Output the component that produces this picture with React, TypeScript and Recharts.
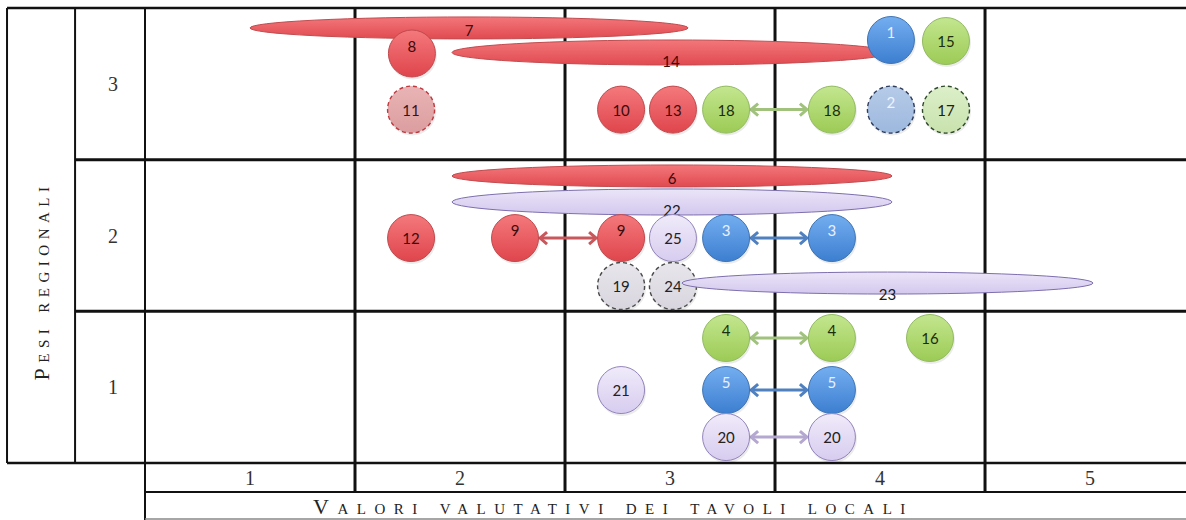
import React from 'react';
import { ScatterChart, Scatter, XAxis, YAxis, ReferenceLine, ReferenceArea, Label } from 'recharts';

// ---------- axis / table values ----------
const X_TICKS = [1, 2, 3, 4, 5];
const Y_TICKS = [1, 2, 3];
const X_TITLE = 'Valori valutativi dei tavoli locali';
const Y_TITLE = 'Pesi regionali';

// ---------- circles (value space: x = valore locale, y = peso regionale) ----------
const redCircles = [
  { label: '8', x: 1.771, y: 3.200 },
  { label: '10', x: 2.767, y: 2.830 },
  { label: '13', x: 3.014, y: 2.830 },
  { label: '12', x: 1.767, y: 1.983 },
  { label: '9', x: 2.262, y: 1.983 },
  { label: '9', x: 2.767, y: 1.983 },
];
const redDashedCircles = [{ label: '11', x: 1.767, y: 2.830 }];
const greenCircles = [
  { label: '15', x: 4.314, y: 3.282 },
  { label: '18', x: 3.267, y: 2.830 },
  { label: '18', x: 3.771, y: 2.830 },
  { label: '4', x: 3.267, y: 1.324 },
  { label: '4', x: 3.771, y: 1.324 },
  { label: '16', x: 4.238, y: 1.324 },
];
const greenDashedCircles = [{ label: '17', x: 4.314, y: 2.830 }];
const blueCircles = [
  { label: '1', x: 4.052, y: 3.289 },
  { label: '3', x: 3.267, y: 1.983 },
  { label: '3', x: 3.771, y: 1.983 },
  { label: '5', x: 3.267, y: 0.981 },
  { label: '5', x: 3.771, y: 0.981 },
];
const blueDashedCircles = [{ label: '2', x: 4.052, y: 2.830 }];
const lavenderCircles = [
  { label: '25', x: 3.014, y: 1.983 },
  { label: '21', x: 2.767, y: 0.981 },
  { label: '20', x: 3.267, y: 0.671 },
  { label: '20', x: 3.771, y: 0.671 },
];
const greyDashedCircles = [
  { label: '19', x: 2.767, y: 1.667 },
  { label: '24', x: 3.014, y: 1.667 },
];

// ---------- bands (elongated ellipses spanning values) ----------
const redBands = [
  { label: '7', x1: 1.0, x2: 3.086, y1: 3.296, y2: 3.441 },
  { label: '14', x1: 1.962, x2: 4.048, y1: 3.124, y2: 3.289 },
  { label: '6', x1: 1.962, x2: 4.057, y1: 2.320, y2: 2.465 },
];
const lavenderBands = [
  { label: '22', x1: 1.962, x2: 4.057, y1: 2.135, y2: 2.307 },
  { label: '23', x1: 3.057, x2: 5.014, y1: 1.614, y2: 1.759 },
];

// ---------- double arrows between circle pairs ----------
const redLinks = [{ from: 2.262, to: 2.767, y: 1.983 }];
const greenLinks = [
  { from: 3.267, to: 3.771, y: 2.830 },
  { from: 3.267, to: 3.771, y: 1.324 },
];
const blueLinks = [
  { from: 3.267, to: 3.771, y: 1.983 },
  { from: 3.267, to: 3.771, y: 0.981 },
];
const lavenderLinks = [{ from: 3.267, to: 3.771, y: 0.671 }];

// ---------- layout constants (value space of the table chrome) ----------
const X_MIN = 0.5;
const X_MAX = 5.457;
const Y_MIN = 0.5;
const Y_MAX = 3.5;
const LEFT_EDGE_X = -0.157;
const ROW_LABEL_X = 0.167;
const TICK_ROW_Y = 0.309;
const TITLE_ROW_Y = 0.131;

const R = 24;
const RAISED = new Set(['1', '2', '3', '4', '5', '8', '9']);
const BAND_LABEL_DY: Record<string, number> = { '7': 2, '14': 8, '6': 2, '22': 8, '23': 11 };
const BAND_Z: Record<string, number> = { '23': 700 };

const KIND_STYLE: Record<string, any> = {
  red: { top: '#f4797c', bottom: '#df454c', stroke: '#c04a4e', text: '#3a0c0c', dashed: false },
  redDashed: { top: '#e9b4b5', bottom: '#dc9d9f', stroke: '#c0393f', text: '#3a1414', dashed: true },
  green: { top: '#c3e68f', bottom: '#9ccb55', stroke: '#93bb62', text: '#1b2e0f', dashed: false },
  greenDashed: { top: '#dcefc9', bottom: '#c8e2ad', stroke: '#2f4a2a', text: '#1b2414', dashed: true },
  blue: { top: '#74aef0', bottom: '#3c7ed0', stroke: '#3f74b4', text: '#e8f0ff', dashed: false },
  blueDashed: { top: '#b6cbe8', bottom: '#9db8de', stroke: '#2f3d5c', text: '#eef3ff', dashed: true },
  lavender: { top: '#f0ebfa', bottom: '#d7ccef', stroke: '#9385bb', text: '#222222', dashed: false },
  greyDashed: { top: '#e8e6ec', bottom: '#d8d5de', stroke: '#4a4a4a', text: '#222222', dashed: true },
};

const BAND_STYLE: Record<string, any> = {
  red: { top: '#f3777a', bottom: '#e04a50', stroke: '#c24c50', text: '#3a0c0c' },
  lavender: { top: '#ebe5f8', bottom: '#d3c8ee', stroke: '#7d6fae', text: '#1a1a1a' },
};

const LINK_COLOR: Record<string, string> = {
  red: '#c8585c',
  green: '#a0c27c',
  blue: '#4f80c0',
  lavender: '#b4a7d0',
};

const LINE = '#111111';
const GRID_Z = -50;
const BAND_DEFAULT_Z = 450;

function Bubble(props: any) {
  const { cx, cy, payload, kind } = props;
  if (cx == null || cy == null) return null;
  const st = KIND_STYLE[kind];
  const id = `grad-${kind}`;
  const raised = RAISED.has(payload.label);
  return (
    <g>
      <defs>
        <linearGradient id={id} x1="0" y1="0" x2="0" y2="1">
          <stop offset="0" stopColor={st.top} />
          <stop offset="1" stopColor={st.bottom} />
        </linearGradient>
      </defs>
      <circle cx={cx + 1} cy={cy + 2} r={R} fill="rgba(0,0,0,0.08)" />
      <circle
        cx={cx}
        cy={cy}
        r={R - 0.5}
        fill={`url(#${id})`}
        stroke={st.stroke}
        strokeWidth={st.dashed ? 1.4 : 1}
        strokeDasharray={st.dashed ? '4 3' : undefined}
      />
      <text
        x={cx}
        y={cy + (raised ? -8 : 0)}
        textAnchor="middle"
        dominantBaseline="central"
        fontFamily="Lato, 'Open Sans', sans-serif"
        fontSize={15}
        fill={st.text}
      >
        {payload.label}
      </text>
    </g>
  );
}

function makeBandShape(kind: string, label: string) {
  return (props: any) => {
    const { x, y, width, height } = props;
    if (x == null || width == null) return null;
    const st = BAND_STYLE[kind];
    const id = `band-${kind}`;
    const cx = x + width / 2;
    const cy = y + height / 2;
    return (
      <g>
        <defs>
          <linearGradient id={id} x1="0" y1="0" x2="0" y2="1">
            <stop offset="0" stopColor={st.top} />
            <stop offset="1" stopColor={st.bottom} />
          </linearGradient>
        </defs>
        <ellipse cx={cx} cy={cy} rx={width / 2} ry={height / 2} fill={`url(#${id})`} stroke={st.stroke} strokeWidth={1} />
        <text
          x={cx}
          y={cy + (BAND_LABEL_DY[label] || 0)}
          textAnchor="middle"
          dominantBaseline="central"
          fontFamily="Lato, 'Open Sans', sans-serif"
          fontSize={15}
          fill={st.text}
        >
          {label}
        </text>
      </g>
    );
  };
}

function makeArrowShape(color: string) {
  return (props: any) => {
    const { x1, y1, x2, y2 } = props;
    if (x1 == null || x2 == null) return null;
    const a = Math.min(x1, x2) + R;
    const b = Math.max(x1, x2) - R;
    const y = (y1 + y2) / 2;
    const h = 8;
    return (
      <g>
        <line x1={a + 2} y1={y} x2={b - 2} y2={y} stroke={color} strokeWidth={3} />
        <polyline
          points={`${a + h},${y - h * 0.75} ${a + 1},${y} ${a + h},${y + h * 0.75}`}
          fill="none"
          stroke={color}
          strokeWidth={3}
        />
        <polyline
          points={`${b - h},${y - h * 0.75} ${b - 1},${y} ${b - h},${y + h * 0.75}`}
          fill="none"
          stroke={color}
          strokeWidth={3}
        />
      </g>
    );
  };
}

function XTick(props: any) {
  const { x, y, payload } = props;
  return (
    <text x={x} y={y + 15} textAnchor="middle" dominantBaseline="central" fontFamily="'Liberation Serif', serif" fontSize={20} fill="#333">
      {payload.value}
    </text>
  );
}

function YTick(props: any) {
  const { y, payload } = props;
  return (
    <text x={113} y={y} textAnchor="middle" dominantBaseline="central" fontFamily="'Liberation Serif', serif" fontSize={20} fill="#333">
      {payload.value}
    </text>
  );
}

function XTitle(props: any) {
  const vb = props.viewBox || {};
  const cx = vb.x + vb.width * 0.45;
  const cy = vb.y + 43;
  return (
    <text
      x={cx}
      y={cy}
      textAnchor="middle"
      dominantBaseline="central"
      fontFamily="'Liberation Serif', serif"
      fontSize={22}
      letterSpacing={8.5}
      fill="#222"
      style={{ fontVariant: 'small-caps' }}
    >
      {X_TITLE}
    </text>
  );
}

function YTitle(props: any) {
  const vb = props.viewBox || {};
  const cx = vb.x + 34;
  const cy = vb.y + vb.height * 0.6;
  return (
    <text
      x={cx}
      y={cy}
      textAnchor="middle"
      dominantBaseline="central"
      transform={`rotate(-90, ${cx}, ${cy})`}
      fontFamily="'Liberation Serif', serif"
      fontSize={22}
      letterSpacing={5.5}
      fill="#222"
      style={{ fontVariant: 'small-caps' }}
    >
      {Y_TITLE}
    </text>
  );
}

const boundariesX = X_TICKS.map((t) => t - 0.5);
const boundariesY = Y_TICKS.slice(1).map((t) => t - 0.5);

export default function App() {
  return (
    <div style={{ position: 'absolute', left: 0, top: 0, width: 1186, height: 520, background: '#fff' }}>
      <ScatterChart width={1186} height={520} margin={{ top: 8, right: 0, bottom: 0, left: 7 }}>
        <XAxis
          type="number"
          dataKey="x"
          domain={[X_MIN, X_MAX]}
          allowDataOverflow
          ticks={X_TICKS}
          height={57}
          axisLine={false}
          tickLine={false}
          tickSize={0}
          tickMargin={0}
          tick={<XTick />}
          interval={0}
        >
          <Label content={<XTitle />} />
        </XAxis>
        <YAxis
          type="number"
          dataKey="y"
          domain={[Y_MIN, Y_MAX]}
          allowDataOverflow
          ticks={Y_TICKS}
          width={138}
          axisLine={false}
          tickLine={false}
          tickSize={0}
          tick={<YTick />}
          interval={0}
        >
          <Label content={<YTitle />} />
        </YAxis>

        {/* table chrome: vertical lines */}
        <ReferenceLine zIndex={GRID_Z} ifOverflow="visible" stroke={LINE} strokeWidth={2} segment={[{ x: LEFT_EDGE_X, y: Y_MIN }, { x: LEFT_EDGE_X, y: Y_MAX }]} />
        <ReferenceLine zIndex={GRID_Z} ifOverflow="visible" stroke={LINE} strokeWidth={2} segment={[{ x: ROW_LABEL_X, y: Y_MIN }, { x: ROW_LABEL_X, y: Y_MAX }]} />
        {boundariesX.map((b) => (
          <ReferenceLine
            key={`vx-${b}`}
            zIndex={GRID_Z}
            ifOverflow="visible"
            stroke={LINE}
            strokeWidth={b === X_MIN ? 2 : 3}
            segment={[{ x: b, y: b === X_MIN ? TITLE_ROW_Y - 0.02 : TICK_ROW_Y }, { x: b, y: Y_MAX }]}
          />
        ))}
        {/* horizontal lines */}
        <ReferenceLine zIndex={GRID_Z} ifOverflow="visible" stroke={LINE} strokeWidth={2.5} segment={[{ x: LEFT_EDGE_X, y: Y_MAX }, { x: X_MAX, y: Y_MAX }]} />
        <ReferenceLine zIndex={GRID_Z} ifOverflow="visible" stroke={LINE} strokeWidth={2.5} segment={[{ x: LEFT_EDGE_X, y: Y_MIN }, { x: X_MAX, y: Y_MIN }]} />
        {boundariesY.map((b) => (
          <ReferenceLine
            key={`hy-${b}`}
            zIndex={GRID_Z}
            ifOverflow="visible"
            stroke={LINE}
            strokeWidth={3}
            segment={[{ x: ROW_LABEL_X, y: b }, { x: X_MAX, y: b }]}
          />
        ))}
        <ReferenceLine zIndex={GRID_Z} ifOverflow="visible" stroke={LINE} strokeWidth={2} segment={[{ x: X_MIN, y: TICK_ROW_Y }, { x: X_MAX, y: TICK_ROW_Y }]} />
        <ReferenceLine zIndex={GRID_Z} ifOverflow="visible" stroke="#888" strokeWidth={1.5} segment={[{ x: X_MIN, y: TITLE_ROW_Y }, { x: X_MAX, y: TITLE_ROW_Y }]} />

        {/* bands */}
        {redBands.map((b, i) => (
          <ReferenceArea key={`rb-${i}`} zIndex={BAND_Z[b.label] || BAND_DEFAULT_Z} ifOverflow="visible" x1={b.x1} x2={b.x2} y1={b.y1} y2={b.y2} shape={makeBandShape('red', b.label)} />
        ))}
        {lavenderBands.map((b, i) => (
          <ReferenceArea key={`lb-${i}`} zIndex={BAND_Z[b.label] || BAND_DEFAULT_Z} ifOverflow="visible" x1={b.x1} x2={b.x2} y1={b.y1} y2={b.y2} shape={makeBandShape('lavender', b.label)} />
        ))}

        {/* arrows */}
        {redLinks.map((l, i) => (
          <ReferenceLine key={`rl-${i}`} zIndex={500} ifOverflow="visible" segment={[{ x: l.from, y: l.y }, { x: l.to, y: l.y }]} shape={makeArrowShape(LINK_COLOR.red)} />
        ))}
        {greenLinks.map((l, i) => (
          <ReferenceLine key={`gl-${i}`} zIndex={500} ifOverflow="visible" segment={[{ x: l.from, y: l.y }, { x: l.to, y: l.y }]} shape={makeArrowShape(LINK_COLOR.green)} />
        ))}
        {blueLinks.map((l, i) => (
          <ReferenceLine key={`bl-${i}`} zIndex={500} ifOverflow="visible" segment={[{ x: l.from, y: l.y }, { x: l.to, y: l.y }]} shape={makeArrowShape(LINK_COLOR.blue)} />
        ))}
        {lavenderLinks.map((l, i) => (
          <ReferenceLine key={`ll-${i}`} zIndex={500} ifOverflow="visible" segment={[{ x: l.from, y: l.y }, { x: l.to, y: l.y }]} shape={makeArrowShape(LINK_COLOR.lavender)} />
        ))}

        {/* circles */}
        <Scatter data={redCircles} isAnimationActive={false} shape={(p: any) => <Bubble {...p} kind="red" />} />
        <Scatter data={redDashedCircles} isAnimationActive={false} shape={(p: any) => <Bubble {...p} kind="redDashed" />} />
        <Scatter data={greenCircles} isAnimationActive={false} shape={(p: any) => <Bubble {...p} kind="green" />} />
        <Scatter data={greenDashedCircles} isAnimationActive={false} shape={(p: any) => <Bubble {...p} kind="greenDashed" />} />
        <Scatter data={blueCircles} isAnimationActive={false} shape={(p: any) => <Bubble {...p} kind="blue" />} />
        <Scatter data={blueDashedCircles} isAnimationActive={false} shape={(p: any) => <Bubble {...p} kind="blueDashed" />} />
        <Scatter data={lavenderCircles} isAnimationActive={false} shape={(p: any) => <Bubble {...p} kind="lavender" />} />
        <Scatter data={greyDashedCircles} isAnimationActive={false} shape={(p: any) => <Bubble {...p} kind="greyDashed" />} />
      </ScatterChart>
    </div>
  );
}
